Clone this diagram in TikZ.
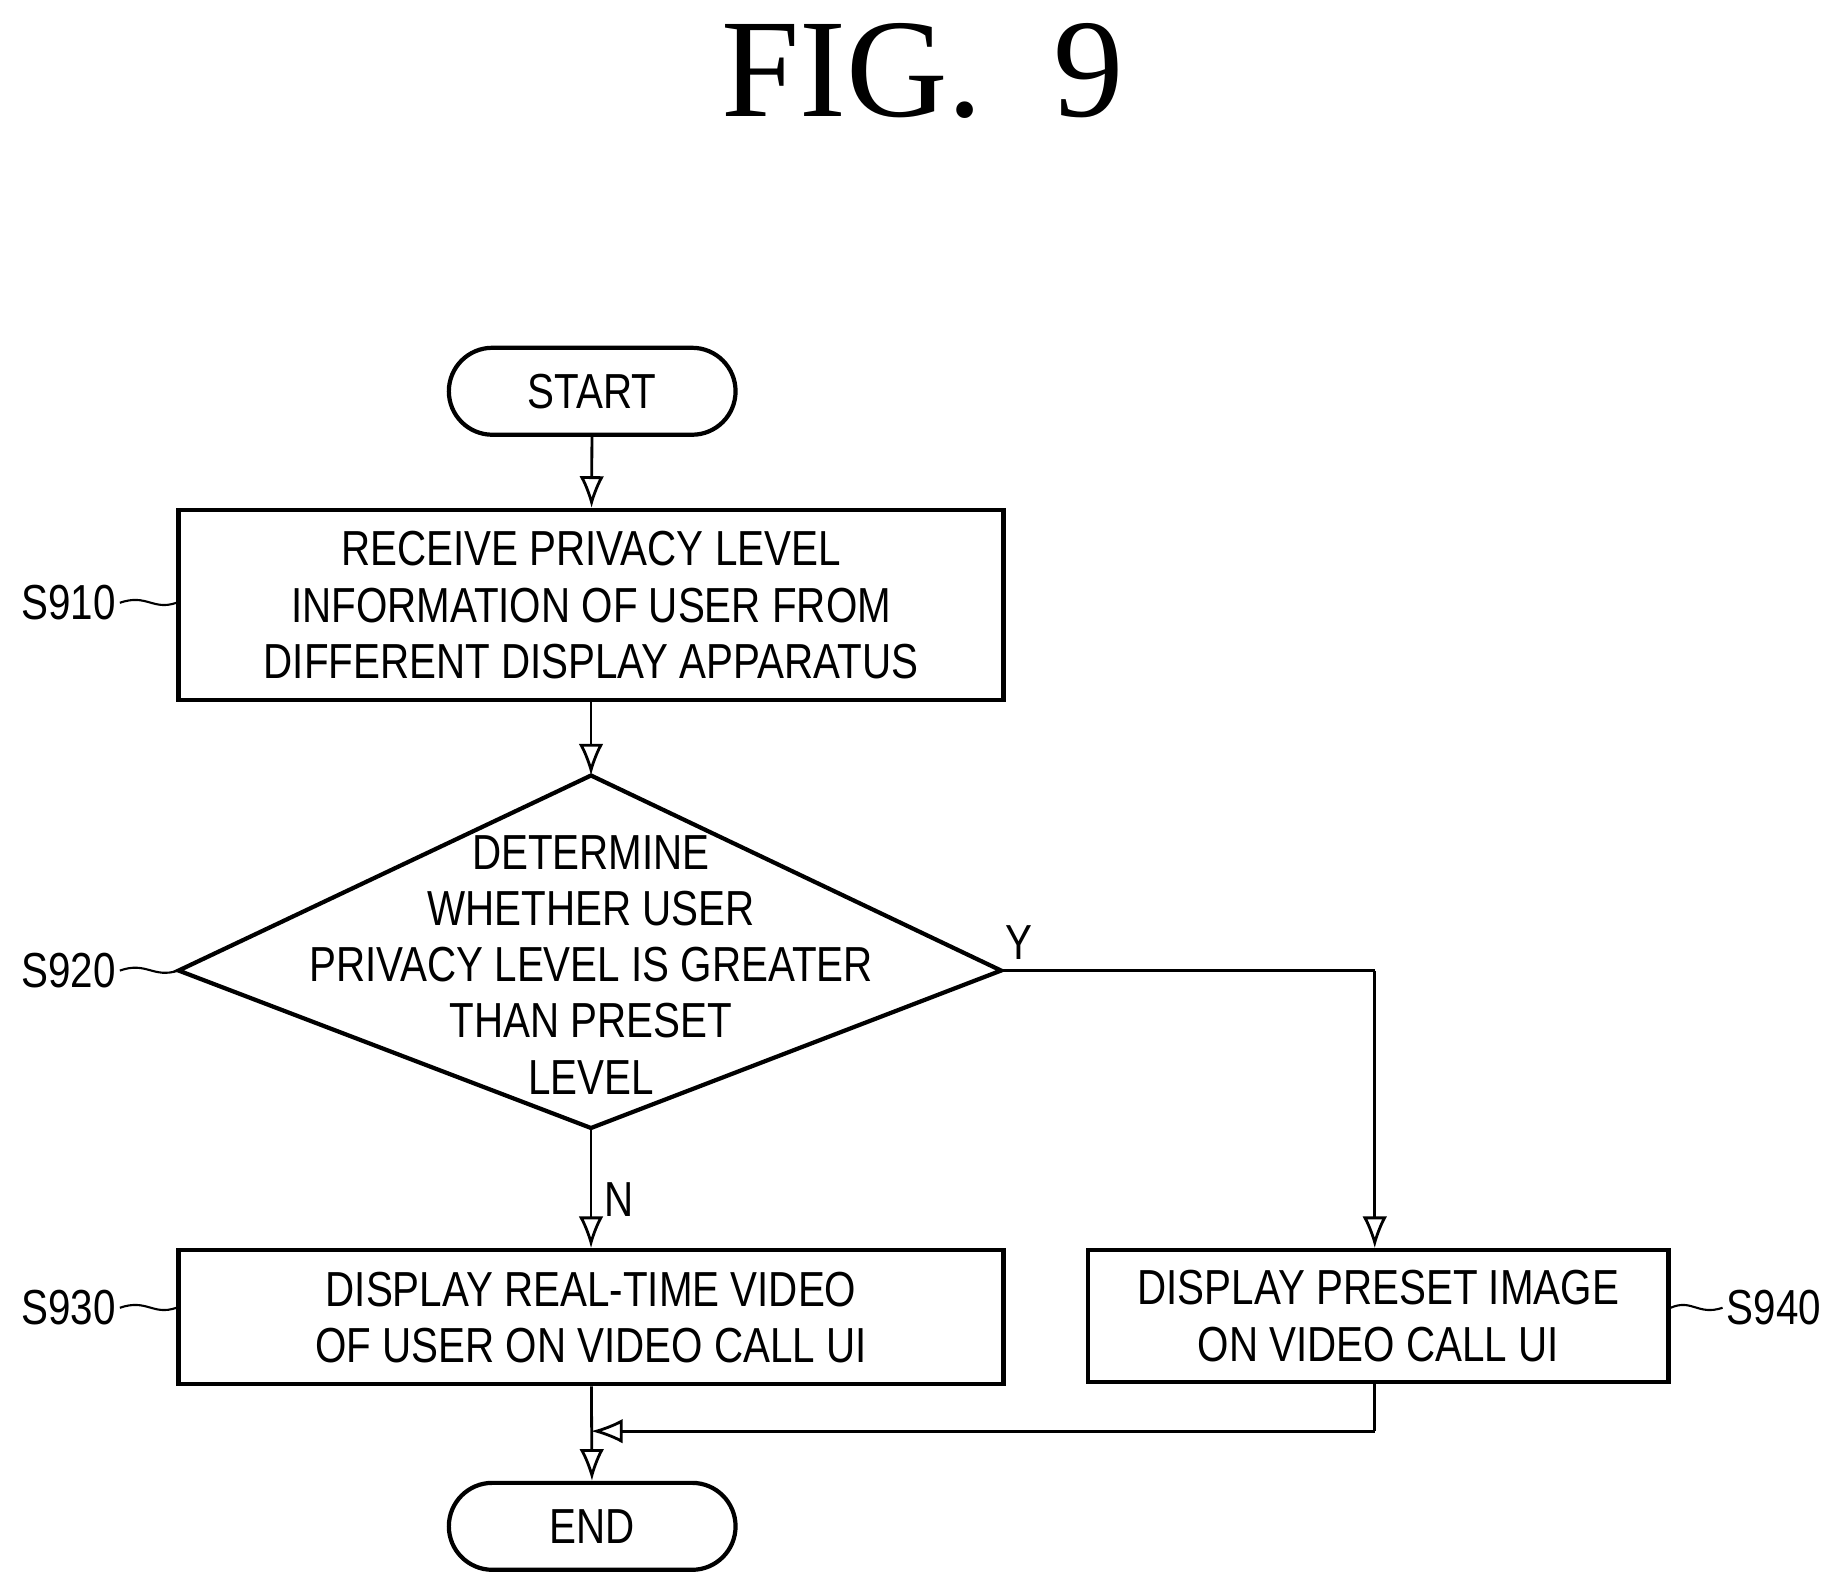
\documentclass[tikz,border=0pt]{standalone}
\usepackage{fontspec}
\setmainfont{Liberation Serif}
\newfontfamily\flowfont[FakeStretch=0.82]{Liberation Sans}
\usetikzlibrary{shapes.geometric,positioning,arrows.meta}
\newlength{\ul}\setlength{\ul}{0.01175cm}
\tikzset{
  box/.style={draw, line width=1.2pt, minimum width=702\ul, minimum height=162\ul, align=center, inner sep=0pt, font=\flowfont\fontsize{14}{16}\selectfont},
  term/.style={draw, line width=1.2pt, rounded corners=37\ul, minimum width=244\ul, minimum height=74\ul, font=\flowfont\fontsize{14}{16}\selectfont},
  dtext/.style={align=center, inner sep=0pt, font=\flowfont\fontsize{14}{16}\selectfont},
  tag/.style={font=\flowfont\fontsize{14}{16}\selectfont},
  flow/.style={line width=0.8pt, -{Latex[open,length=9pt,width=7pt]}},
  link/.style={line width=0.8pt},
  tilde/.style={line width=0.6pt}
}
\begin{document}
\begin{tikzpicture}[x=0.01175cm,y=-0.01175cm]
  \useasboundingbox (0,0) rectangle (1560,1353);

  % Title
  \node (title) at (785,60) {\fontsize{40}{44}\selectfont FIG.\ \ 9};

  % Start / end
  \node[term] (start) at (504,333) {START};
  \node[term] (stop) at (504,1299) {END};

  % Steps
  \node[box] (s910) at (503,515) {RECEIVE PRIVACY LEVEL\\INFORMATION OF USER FROM\\DIFFERENT DISPLAY APPARATUS};
  \coordinate (dtop) at (503,660);
  \coordinate (dbot) at (503,960);
  \coordinate (dleft) at (152,826);
  \coordinate (dright) at (852,826);
  \draw[line width=1.2pt] (dtop) -- (dright) -- (dbot) -- (dleft) -- cycle;
  \node[dtext] (s920) at (503,821) {DETERMINE\\WHETHER USER\\PRIVACY LEVEL IS GREATER\\THAN PRESET\\LEVEL};
  \node[box, minimum height=114\ul] (s930) at (503,1121) {DISPLAY REAL-TIME VIDEO\\OF USER ON VIDEO CALL UI};
  \node[box, minimum width=494\ul, minimum height=112\ul] (s940) at (1173,1120) {DISPLAY PRESET IMAGE\\ON VIDEO CALL UI};

  % Connectors
  \coordinate (yturn) at (1170,826);
  \coordinate (merge) at (503,1218);
  \coordinate (s940out) at (1170,1218);
  \draw[flow] (start) -- (s910);
  \draw[flow] (s910) -- (dtop);
  \draw[flow] (dbot) -- node[right, tag, pos=0.6] {N} (s930);
  \draw[link] (dright) -- (yturn);
  \draw[flow] (yturn) -- (yturn |- s940.north);
  \draw[link] (s940.south -| s940out) -- (s940out);
  \draw[flow] (s940out) -- (merge);
  \draw[flow] (s930) -- (stop);
  \node[tag] (ylab) at (867,802) {Y};

  % Step labels
  \node[tag, anchor=east, inner sep=1pt] (l910) at (102,513) {S910};
  \node[tag, anchor=east, inner sep=1pt] (l920) at (102,826) {S920};
  \node[tag, anchor=east, inner sep=1pt] (l930) at (102,1113) {S930};
  \node[tag, anchor=west, inner sep=1pt] (l940) at (1466,1113) {S940};
  \draw[tilde] (l910.east) .. controls (125,505) and (130,520) .. (s910.west |- l910);
  \draw[tilde] (l920.east) .. controls (125,818) and (130,833) .. (dleft);
  \draw[tilde] (l930.east) .. controls (125,1105) and (130,1120) .. (s930.west |- l930);
  \draw[tilde] (s940.east |- l940) .. controls (1440,1105) and (1445,1120) .. (l940.west);
\end{tikzpicture}
\end{document}
